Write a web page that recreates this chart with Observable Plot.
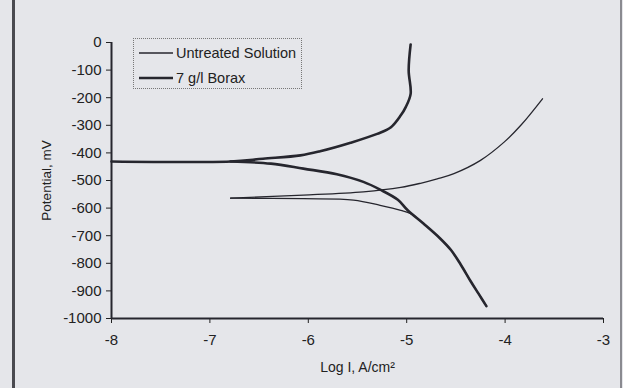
<!DOCTYPE html>
<html>
<head>
<meta charset="utf-8">
<script src="https://cdn.jsdelivr.net/npm/d3@7"></script>
<script src="https://cdn.jsdelivr.net/npm/@observablehq/plot@0.6"></script>
<style>
  html, body { margin: 0; padding: 0; background: #e5e6ea; }
  #wrap { position: relative; width: 623px; height: 388px; overflow: hidden; background: #e5e6ea;
          font-family: "Liberation Sans", Arial, sans-serif; color: #222; }
  #edgeL { position: absolute; left: 12px; top: 0; width: 3px; height: 388px; background: #4a4a50; }
  #edgeR { position: absolute; left: 620px; top: 0; width: 2px; height: 388px; background: #8a8a90; }
  #legend { position: absolute; left: 133px; top: 38px; width: 169px; height: 51px;
            border: 1px dotted #777; box-sizing: border-box; }
  .item { position: absolute; left: 4px; height: 20px; display: flex; align-items: center; font-size: 14.5px; }
  .item svg { margin-right: 3px; }
  #chart svg [aria-label="y-axis tick label"], #chart svg [aria-label="x-axis tick label"] { font-size: 15px; }
  #chart svg [aria-label="y-axis label"] { font-size: 13.5px; }
  #chart svg [aria-label="x-axis label"] { font-size: 14px; }
</style>
</head>
<body>
<div id="wrap">
  <div id="edgeL"></div>
  <div id="edgeR"></div>
  <div id="chart"></div>
  <div id="legend"></div>
</div>
<script>
// Series names
const seriesNames = ["Untreated Solution", "7 g/l Borax"];

// Untreated Solution (thin line) — anodic branch
const untreatedAnodicLogI = [-6.79, -6.05, -5.44, -5.06, -4.86, -4.69, -4.52, -4.25, -4.01, -3.84, -3.62];
const untreatedAnodicE    = [-564, -553, -541, -525, -510, -494, -475, -427, -361, -300, -204];
// Untreated Solution — cathodic branch
const untreatedCathodicLogI = [-6.79, -6.05, -5.54, -5.27, -5.06, -4.96, -4.83, -4.66, -4.55, -4.45, -4.35, -4.27, -4.19];
const untreatedCathodicE    = [-564, -566, -571, -590, -608, -620, -656, -710, -752, -805, -865, -910, -955];

// 7 g/l Borax (thick line) — anodic branch
const boraxAnodicLogI = [-8, -6.79, -6.46, -6.08, -5.88, -5.57, -5.30, -5.16, -5.06, -5.01, -4.96, -4.98, -4.96];
const boraxAnodicE    = [-431, -431, -421, -409, -394, -363, -331, -307, -264, -234, -186, -101, -7];
// 7 g/l Borax — cathodic branch
const boraxCathodicLogI = [-6.79, -6.38, -6.05, -5.71, -5.44, -5.27, -5.09, -4.99, -4.83, -4.66, -4.55, -4.45, -4.35, -4.27, -4.19];
const boraxCathodicE    = [-431, -439, -457, -477, -505, -533, -570, -608, -656, -710, -752, -805, -865, -910, -955];

// Axis ticks
const xTicks = [-8, -7, -6, -5, -4, -3];
const yTicks = [0, -100, -200, -300, -400, -500, -600, -700, -800, -900, -1000];

function rows(series, branch, xs, ys) {
  return xs.map((x, i) => ({series, branch, key: series + "|" + branch, logI: x, E: ys[i]}));
}
const thin = [
  ...rows(seriesNames[0], "anodic", untreatedAnodicLogI, untreatedAnodicE),
  ...rows(seriesNames[0], "cathodic", untreatedCathodicLogI, untreatedCathodicE)
];
const thick = [
  ...rows(seriesNames[1], "anodic", boraxAnodicLogI, boraxAnodicE),
  ...rows(seriesNames[1], "cathodic", boraxCathodicLogI, boraxCathodicE)
];

const ink = "#26262e";

const chart = Plot.plot({
  width: 623,
  height: 388,
  marginLeft: 111,
  marginRight: 20,
  marginTop: 42,
  marginBottom: 70,
  style: {fontFamily: "'Liberation Sans', Arial, sans-serif", fontSize: "14px", background: "transparent", color: "#222"},
  x: {domain: [-8, -3], ticks: xTicks, tickFormat: d => String(d), tickSize: 5, tickPadding: 11,
      label: "Log I, A/cm\u00B2", labelAnchor: "center", labelOffset: 53, labelArrow: "none"},
  y: {domain: [-1000, 0], ticks: yTicks, tickFormat: d => String(d), tickSize: 5, tickPadding: 5,
      label: "Potential, mV", labelAnchor: "center", labelOffset: 70, labelArrow: "none"},
  marks: [
    Plot.ruleY([-1000], {stroke: ink, strokeWidth: 2}),
    Plot.ruleX([-8], {stroke: ink, strokeWidth: 2}),
    Plot.line(thin, {x: "logI", y: "E", z: "key", stroke: ink, strokeWidth: 1.3, curve: "catmull-rom"}),
    Plot.line(thick, {x: "logI", y: "E", z: "key", stroke: ink, strokeWidth: 2.6, curve: "catmull-rom"})
  ]
});
document.getElementById("chart").appendChild(chart);

// Legend
const legend = document.getElementById("legend");
seriesNames.forEach((name, i) => {
  const item = document.createElement("div");
  item.className = "item";
  item.style.top = (i === 0 ? 4 : 29) + "px";
  const sw = i === 0 ? 1.3 : 2.6;
  item.innerHTML = `<svg width="35" height="10"><line x1="1" x2="35" y1="5" y2="5" stroke="${ink}" stroke-width="${sw}"/></svg><span>${name}</span>`;
  legend.appendChild(item);
});
</script>
</body>
</html>
